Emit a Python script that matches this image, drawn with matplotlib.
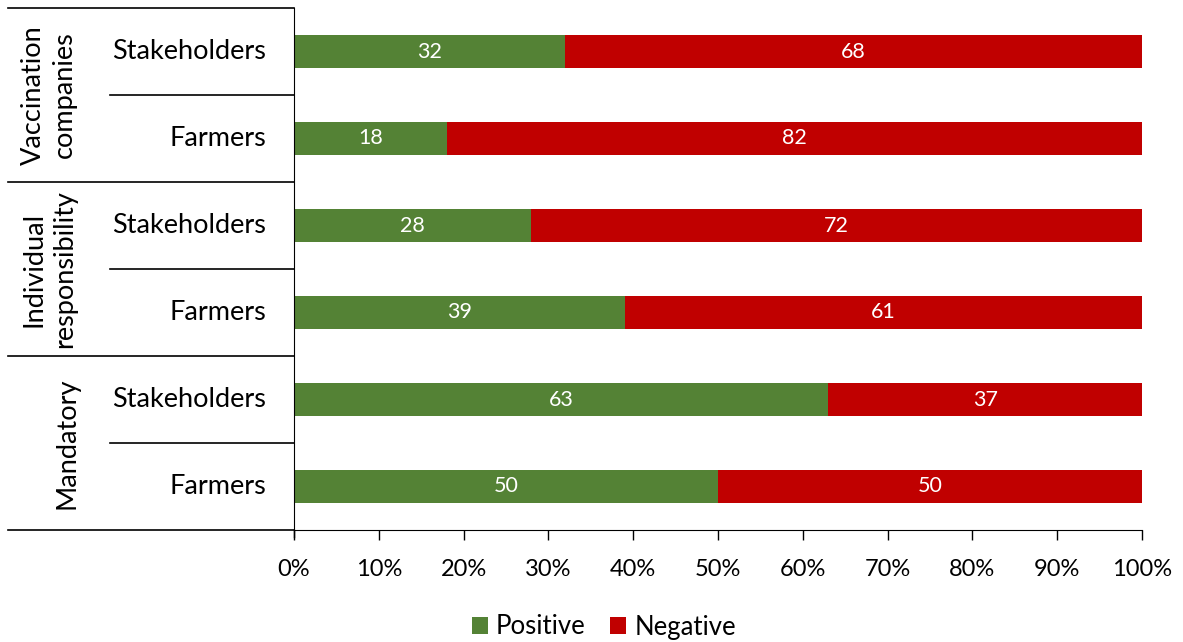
import matplotlib
matplotlib.use("Agg")
import matplotlib.pyplot as plt
import numpy as np

plt.rcParams['font.family'] = ['Lato', 'DejaVu Sans']

groups = ["Vaccination\ncompanies", "Individual\nresponsibility", "Mandatory"]
subcats = ["Stakeholders", "Farmers", "Stakeholders", "Farmers", "Stakeholders", "Farmers"]
positive = [32, 18, 28, 39, 63, 50]
negative = [68, 82, 72, 61, 37, 50]
ticks = [0, 10, 20, 30, 40, 50, 60, 70, 80, 90, 100]
tick_labels = [f"{t}%" for t in ticks]

GREEN = "#548235"
RED = "#C00000"

W, H = 1183, 642
fig = plt.figure(figsize=(W / 100, H / 100), dpi=100)
L, R, T, B = 294, 1142, 8, 530
ax = fig.add_axes([L / W, 1 - B / H, (R - L) / W, (B - T) / H])

n = len(subcats)
y = np.arange(n)
bh = 0.39
ax.barh(y, positive, height=bh, color=GREEN, label="Positive")
ax.barh(y, negative, left=positive, height=bh, color=RED, label="Negative")
for yi, p, q in zip(y, positive, negative):
    ax.text(p / 2, yi, str(p), ha="center", va="center", color="white", fontsize=15.5)
    ax.text(p + q / 2, yi, str(q), ha="center", va="center", color="white", fontsize=15.5)

ax.set_ylim(n - 0.5, -0.5)
ax.set_xlim(0, 100)
ax.set_xticks(ticks)
ax.set_xticklabels(tick_labels, fontsize=17)
ax.set_yticks([])
ax.tick_params(axis="x", direction="out", length=7, width=1, color="black", pad=14)
for s in ["top", "right"]:
    ax.spines[s].set_visible(False)
ax.spines["left"].set_color("black")
ax.spines["bottom"].set_color("black")

def fx(px):
    return (px - L) / (R - L)

tr = ax.get_yaxis_transform()
for i, lab in enumerate(subcats):
    ax.text(fx(266), i, lab, transform=tr, ha="right", va="center", fontsize=19.5)
for k in range(0, n + 1):
    yy = k - 0.5
    x0 = fx(8) if k % 2 == 0 else fx(110)
    ax.plot([x0, 0], [yy, yy], transform=tr, color="black", lw=1.2, clip_on=False)
ax.plot([0, 0], [n - 0.5, n - 0.5 + 0.08], transform=tr, color="black", lw=1, clip_on=False)

group_x = [fx(49), fx(49), fx(67)]
group_y = [0.5, 2.5, 4.5]
for g, gx, gy in zip(groups, group_x, group_y):
    ax.text(gx, gy, g, transform=tr, rotation=90, ha="center", va="center",
            fontsize=19.5, multialignment="center", linespacing=1.3)

fig.legend(loc="center", bbox_to_anchor=(604 / W, 1 - 627 / H), ncol=2, frameon=False,
           fontsize=18.5, handlelength=0.62, handleheight=0.62, handletextpad=0.31,
           columnspacing=0.95)

fig.savefig("out.png", dpi=100)
